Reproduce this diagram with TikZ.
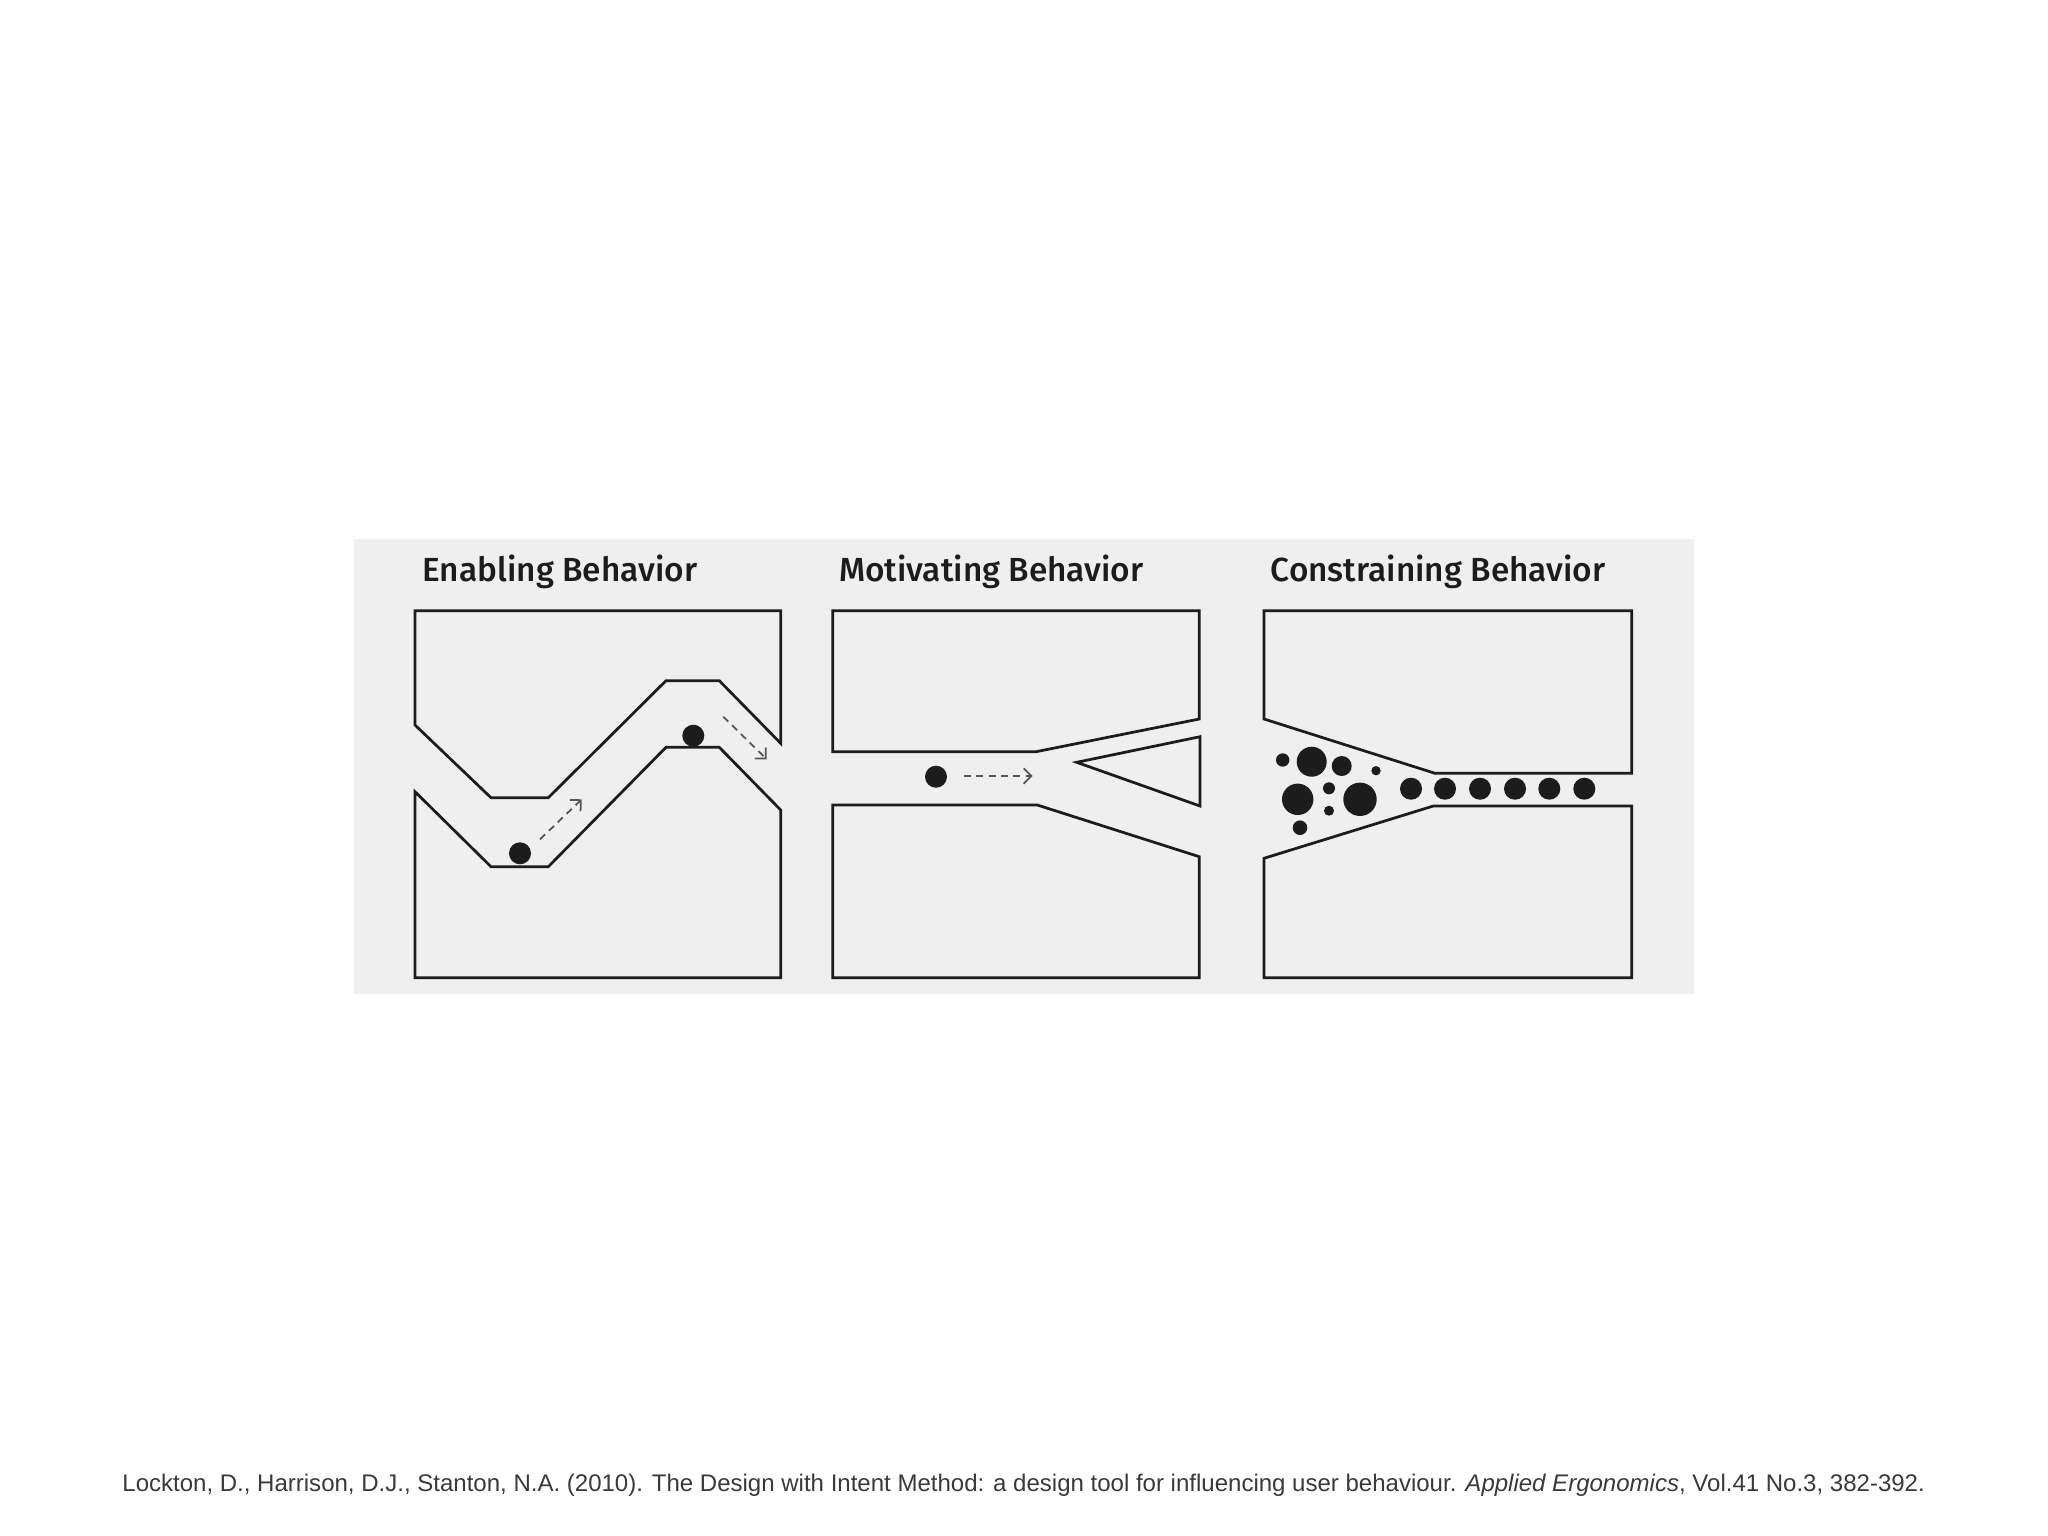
\documentclass[tikz,border=0pt]{standalone}
\usepackage{fontspec}
\setmainfont{Liberation Sans}
\newfontfamily\titlefont{Fira Sans}[UprightFont={* Medium}]
\usetikzlibrary{arrows.meta}
\definecolor{panelbg}{HTML}{EFEFEF}
\definecolor{ink}{HTML}{1C1C1C}
\definecolor{capgray}{HTML}{3A3A3A}
\tikzset{
  wall/.style={draw=ink, line width=0.78pt, line join=miter, fill=panelbg},
  ball/.style={fill=ink},
  flow/.style={draw=ink!75, line width=0.5pt, dash pattern=on 2pt off 1.5pt, -{Straight Barb[length=2.2pt,width=4.4pt,line width=0.5pt]}},
  ptitle/.style={anchor=base west, inner sep=0pt, font=\titlefont\fontsize{9.5}{11}\selectfont, text=ink},
}
\begin{document}
\begin{tikzpicture}[x=0.01cm,y=-0.01cm]
\useasboundingbox[fill=white] (0,0) rectangle (2048,1536);
\fill[panelbg] (354,539) rectangle (1694,994);

% titles
\node[ptitle] (t1) at (421.7,581.7) {Enabling Behavior};
\node[ptitle] (t2) at (838.3,581.7) {Motivating Behavior};
\node[ptitle] (t3) at (1270,581.7) {Constraining Behavior};

% ---------- Panel 1: Enabling ----------
\draw[wall] (415,610.7) -- (780.7,610.7) -- (780.7,743.3) -- (719.3,680.7) -- (666,680.7)
  -- (548.3,797.7) -- (491,797.7) -- (415,725) -- cycle;
\draw[wall] (415,791.7) -- (491,866.7) -- (548.3,866.7) -- (666,747.3) -- (719.3,747.3)
  -- (780.7,810) -- (780.7,977.7) -- (415,977.7) -- cycle;
\fill[ball] (520,853.3) circle[radius=11];
\fill[ball] (693.3,735.7) circle[radius=11];
\coordinate (a1s) at (540,839.3);
\coordinate (a1e) at (581.7,799.3);
\coordinate (a2s) at (723.3,716.7);
\coordinate (a2e) at (766.7,759.3);
\draw[flow] (a1s) -- (a1e);
\draw[flow] (a2s) -- (a2e);

% ---------- Panel 2: Motivating ----------
\draw[wall] (832.7,610.7) -- (1199.3,610.7) -- (1199.3,719) -- (1036,751.7) -- (832.7,751.7) -- cycle;
\draw[wall] (832.7,805) -- (1037.3,805) -- (1199.3,856.7) -- (1199.3,977.7) -- (832.7,977.7) -- cycle;
\draw[wall] (1076.7,762.3) -- (1200,736.7) -- (1200,806) -- cycle;
\fill[ball] (936,776.7) circle[radius=11];
\coordinate (b1s) at (964,776);
\coordinate (b1e) at (1032.7,776);
\draw[flow] (b1s) -- (b1e);

% ---------- Panel 3: Constraining ----------
\draw[wall] (1264,610.7) -- (1631.7,610.7) -- (1631.7,773.3) -- (1435,773.3) -- (1264,719) -- cycle;
\draw[wall] (1264,858.3) -- (1433.3,806) -- (1631.7,806) -- (1631.7,977.7) -- (1264,977.7) -- cycle;
\fill[ball] (1282.7,760) circle[radius=6.7];
\fill[ball] (1311.7,761.7) circle[radius=15];
\fill[ball] (1341.7,766) circle[radius=10];
\fill[ball] (1376,770.7) circle[radius=4.7];
\fill[ball] (1297.7,799.3) circle[radius=15.7];
\fill[ball] (1329,788.3) circle[radius=6];
\fill[ball] (1360,799.3) circle[radius=16.7];
\fill[ball] (1329,810.7) circle[radius=5];
\fill[ball] (1300,827.7) circle[radius=7.3];
\foreach \xx in {1411,1445,1480,1515,1549.3,1584.3}
  \fill[ball] (\xx,788.7) circle[radius=11];

% caption
\node[anchor=base west, inner sep=0pt, text=capgray, font=\fontsize{6.83}{8}\selectfont] (cap) at (121.7,1491.7)
  {Lockton, D., Harrison, D.J., Stanton, N.A. (2010). The Design with Intent Method: a design tool for influencing user behaviour. \textit{Applied Ergonomics}, Vol.41 No.3, 382-392.};
\end{tikzpicture}
\end{document}
